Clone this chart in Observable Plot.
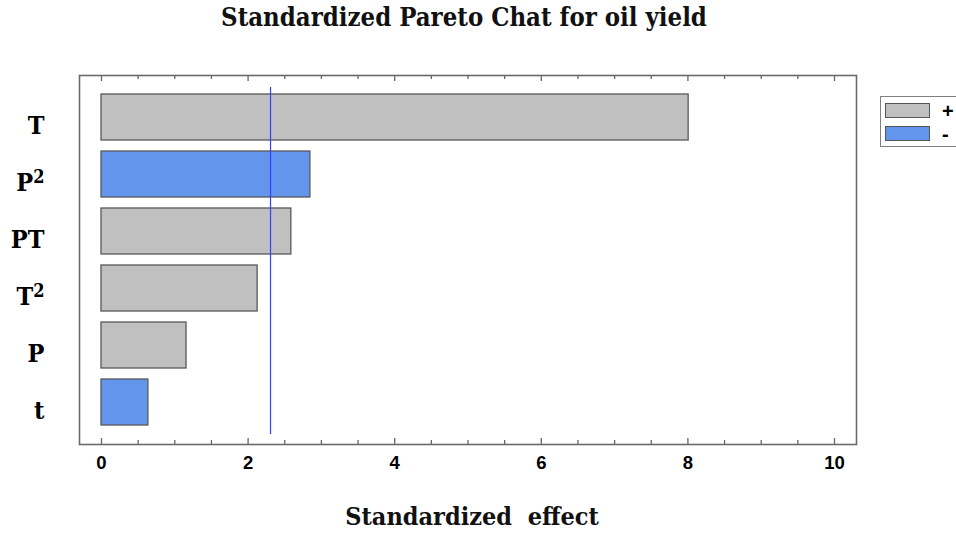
<!DOCTYPE html>
<html>
<head>
<meta charset="utf-8">
<script src="https://cdn.jsdelivr.net/npm/d3@7"></script>
<script src="https://cdn.jsdelivr.net/npm/@observablehq/plot@0.6"></script>
<style>
  html, body { margin: 0; padding: 0; background: #fff; }
  #wrap { position: relative; width: 956px; height: 534px; overflow: hidden; }
  #wrap svg { position: absolute; left: 0; top: 0; }
  .title, .xlabel {
    position: absolute; left: 0; width: 956px; text-align: center;
    font-family: "DejaVu Serif Condensed", "DejaVu Serif", serif; font-stretch: condensed;
    font-weight: bold; color: #111; white-space: pre;
  }
  .title { top: 2px; font-size: 25.5px; transform: translateX(-14px); }
  .xlabel { top: 502px; font-size: 25px; transform: translateX(-6px); }
  .legend {
    position: absolute; left: 880px; top: 96px; width: 90px; height: 51px;
    border: 1.5px solid #808080; background: #fff; box-sizing: border-box;
  }
  .legend .sw {
    position: absolute; left: 4px; width: 45px; height: 15px;
    border: 1.5px solid #555; box-sizing: border-box;
  }
  .legend .lab {
    position: absolute; left: 61px; font-family: "Liberation Sans", Arial, sans-serif;
    font-weight: bold; font-size: 20px; line-height: 18px; color: #000;
  }
</style>
</head>
<body>
<div id="wrap">
  <div class="title">Standardized Pareto Chat for oil yield</div>
  <div class="xlabel">Standardized  effect</div>
</div>
<script>
// Effects, their standardized values and sign
const effects = ["T", "P²", "PT", "T²", "P", "t"];
const effectValues = [8.01, 2.85, 2.59, 2.13, 1.16, 0.64];
const effectSigns = ["+", "-", "+", "+", "+", "-"];
const signLabels = ["+", "-"];
const signColors = ["#c0c0c0", "#6495ed"];
// Critical value of the standardized effect (significance line)
const criticalValue = 2.306;
// Axis ticks
const xMajorTicks = [0, 2, 4, 6, 8, 10];
const xMinorTicks = [0.5, 1, 1.5, 2.5, 3, 3.5, 4.5, 5, 5.5, 6.5, 7, 7.5, 8.5, 9, 9.5];

const rows = effects.map((e, i) => ({effect: e, value: effectValues[i], sign: effectSigns[i]}));

const W = 956, H = 534;
const mTop = 75, mBottom = 90, mLeft = 79, mRight = 100;
const frameH = H - mTop - mBottom;

const tickFont = '"Liberation Sans Narrow", "Arial Narrow", "Liberation Sans", sans-serif';
const serifFont = '"DejaVu Serif Condensed", "DejaVu Serif", serif';

const chart = Plot.plot({
  width: W,
  height: H,
  marginTop: mTop,
  marginBottom: mBottom,
  marginLeft: mLeft,
  marginRight: mRight,
  style: {background: "transparent", color: "#000"},
  x: {domain: [-0.3, 10.3], label: null},
  y: {domain: effects, paddingInner: 0.2, paddingOuter: 0.3, label: null},
  color: {domain: signLabels, range: signColors},
  marks: [
    Plot.barX(rows, {x: "value", y: "effect", fill: "sign", stroke: "#585858", strokeWidth: 1.3}),
    Plot.ruleX([criticalValue], {stroke: "#3c3cff", strokeWidth: 1.2, insetTop: 12, insetBottom: 10}),
    // inward ticks along the bottom and top edges of the frame
    Plot.ruleX(xMajorTicks, {stroke: "#666", strokeWidth: 1.3, insetTop: frameH - 6}),
    Plot.ruleX(xMinorTicks, {stroke: "#666", strokeWidth: 1.3, insetTop: frameH - 4}),
    Plot.ruleX(xMajorTicks, {stroke: "#666", strokeWidth: 1.3, insetBottom: frameH - 6}),
    Plot.ruleX(xMinorTicks, {stroke: "#666", strokeWidth: 1.3, insetBottom: frameH - 4}),
    Plot.frame({stroke: "#6a6a6a", strokeWidth: 1.6}),
    Plot.axisX({
      ticks: xMajorTicks, tickSize: 0, tickPadding: 11, label: null,
      fontSize: 18.5, fontWeight: "bold", fontFamily: tickFont
    }),
    Plot.axisY({
      tickSize: 0, tickPadding: 35, label: null, dy: 8,
      fontSize: 25, fontWeight: "bold", fontFamily: serifFont
    })
  ]
});

document.getElementById("wrap").appendChild(chart);

// Render the squared terms with a raised exponent
d3.select(chart).selectAll("g[aria-label='y-axis tick label'] text").each(function () {
  const t = this.textContent;
  if (t.endsWith("²")) {
    const sel = d3.select(this);
    sel.text(null);
    sel.append("tspan").text(t.slice(0, -1));
    sel.append("tspan").attr("dy", "-0.42em").attr("font-size", "18px").text("2");
  }
});

// Legend
const legend = document.createElement("div");
legend.className = "legend";
signLabels.forEach((s, i) => {
  const sw = document.createElement("div");
  sw.className = "sw";
  sw.style.top = (6 + i * 23) + "px";
  sw.style.background = signColors[i];
  legend.appendChild(sw);
  const lab = document.createElement("div");
  lab.className = "lab";
  lab.style.top = (5 + i * 23) + "px";
  lab.textContent = s;
  legend.appendChild(lab);
});
document.getElementById("wrap").appendChild(legend);
</script>
</body>
</html>
